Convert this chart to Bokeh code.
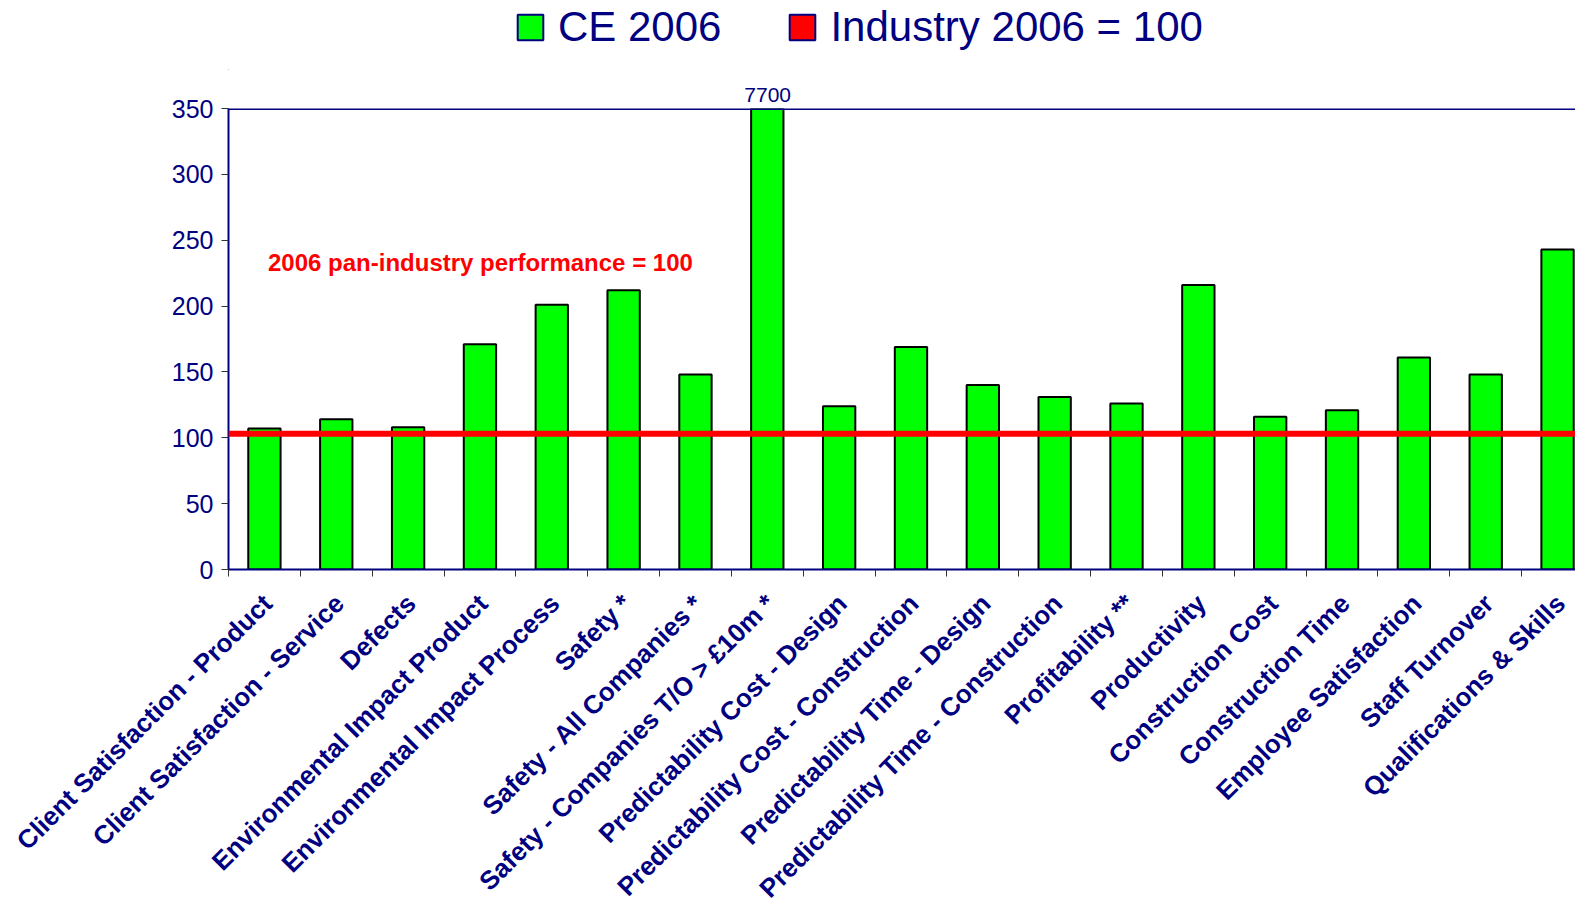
import math
from bokeh.plotting import figure
from bokeh.layouts import column
from bokeh.models import (Range1d, FixedTicker, Span, Label, LabelSet, Legend,
                          LegendItem, ColumnDataSource)
from bokeh.core.properties import value
from bokeh.embed import file_html
from bokeh.resources import INLINE

# ---- data ----
categories = [
    "Client Satisfaction - Product",
    "Client Satisfaction - Service",
    "Defects",
    "Environmental Impact Product",
    "Environmental Impact Process",
    "Safety *",
    "Safety - All Companies *",
    "Safety - Companies T/O > £10m *",
    "Predictability Cost - Design",
    "Predictability Cost - Construction",
    "Predictability Time - Design",
    "Predictability Time - Construction",
    "Profitability **",
    "Productivity",
    "Construction Cost",
    "Construction Time",
    "Employee Satisfaction",
    "Staff Turnover",
    "Qualifications & Skills",
]
ce_2006 = [107, 114, 108, 171, 201, 212, 148, 7700, 124, 169, 140, 131, 126, 216, 116, 121, 161, 148, 243]
industry_2006 = 103
y_ticks = [0, 50, 100, 150, 200, 250, 300, 350]
y_max = 350
series_names = ["CE 2006", "Industry 2006 = 100"]
note_text = "2006 pan-industry performance = 100"

# ---- style ----
NAVY = "#000080"
GREEN = "#00FF00"
RED = "#FF0000"
FONT = "Liberation Sans"
W, H = 1575, 903
TOP_H = 70
LEFT = 228
X_END = 18.75
MAIN_H = 519
BOT_H = H - TOP_H - MAIN_H

n = len(categories)
centers = [i + 0.5 for i in range(n)]
bounds = list(range(n + 1))
x_range = Range1d(0, X_END)

# ---------- header strip: legend ----------
top = figure(width=W, height=TOP_H, x_range=x_range, y_range=Range1d(0, 1),
             output_backend="svg", toolbar_location=None,
             x_axis_location=None, y_axis_location=None,
             min_border_left=LEFT, min_border_right=0,
             min_border_top=0, min_border_bottom=0)
top.outline_line_color = None
top.xgrid.visible = False
top.ygrid.visible = False

# legend swatches (kept outside the visible x range)
r_ce = top.vbar(x=[-1], top=[0], width=0.45, fill_color=GREEN, line_color=NAVY, line_width=2)
r_ind = top.vbar(x=[-1], top=[0], width=0.45, fill_color=RED, line_color=NAVY, line_width=2)
legend = Legend(items=[LegendItem(label=series_names[0], renderers=[r_ce]),
                       LegendItem(label=series_names[1], renderers=[r_ind])],
                orientation="horizontal", location=(286, 19),
                glyph_width=32, glyph_height=32, label_standoff=12, spacing=65,
                padding=0, margin=0, border_line_color=None,
                background_fill_alpha=0,
                label_text_font=FONT, label_text_font_size="42px",
                label_text_color=NAVY)
top.add_layout(legend)

# off-scale value shown as the main chart's title, above its bar
off_idx = [i for i, v in enumerate(ce_2006) if v > y_max][0]
off_text = str(ce_2006[off_idx])

# ---------- main chart ----------
p = figure(width=W, height=MAIN_H,
           x_range=x_range, y_range=Range1d(0, y_max),
           output_backend="svg", toolbar_location=None,
           min_border_left=LEFT, min_border_right=0,
           min_border_top=108 - TOP_H, min_border_bottom=20,
           title=off_text)
p.outline_line_color = None
p.xgrid.visible = False
p.ygrid.visible = False

p.title.text_font = FONT
p.title.text_font_size = "21px"
p.title.text_font_style = "normal"
p.title.text_color = NAVY
p.title.align = "left"
p.title.offset = (centers[off_idx] / X_END) * (W - LEFT) - 23
p.title.standoff = 14

p.vbar(x=centers, top=ce_2006, bottom=0, width=0.45,
       fill_color=GREEN, line_color="black", line_width=2)

p.add_layout(Span(location=industry_2006, dimension="width",
                  line_color=RED, line_width=6))
p.add_layout(Span(location=y_max, dimension="width",
                  line_color=NAVY, line_width=3))

p.add_layout(Label(x=0.55, y=233, text=note_text, text_align="left",
                   text_baseline="alphabetic", text_font=FONT,
                   text_font_size="24px", text_font_style="bold",
                   text_color=RED))

xa = p.xaxis[0]
xa.ticker = FixedTicker(ticks=centers, minor_ticks=bounds)
xa.major_label_overrides = {c: "" for c in centers}
xa.major_label_standoff = 0
xa.major_label_text_font_size = "1px"
xa.major_tick_line_color = None
xa.minor_tick_line_color = "#333333"
xa.minor_tick_in = 0
xa.minor_tick_out = 7
xa.axis_line_color = NAVY
xa.axis_line_width = 2

ya = p.yaxis[0]
ya.ticker = FixedTicker(ticks=y_ticks)
ya.major_label_text_font = FONT
ya.major_label_text_font_size = "25px"
ya.major_label_text_color = NAVY
ya.major_label_standoff = 8
ya.major_tick_in = 0
ya.major_tick_out = 7
ya.major_tick_line_color = "#333333"
ya.minor_tick_line_color = None
ya.axis_line_color = NAVY
ya.axis_line_width = 2

# ---------- category labels strip (same x scale, frame spans full width) ----------
bot_x_range = Range1d(-LEFT * X_END / (W - LEFT), X_END)
bot = figure(width=W, height=BOT_H, x_range=bot_x_range, y_range=Range1d(0, 1),
             output_backend="svg", toolbar_location=None,
             x_axis_location=None, y_axis_location=None,
             min_border_left=0, min_border_right=0,
             min_border_top=0, min_border_bottom=0)
bot.outline_line_color = None
bot.xgrid.visible = False
bot.ygrid.visible = False

label_src = ColumnDataSource(data=dict(x=centers, text=categories))
bot.add_layout(LabelSet(x="x", y=BOT_H - 9.5, y_units="screen", text="text",
                        source=label_src, angle=math.pi / 4, x_offset=3,
                        text_align="right", text_baseline="middle",
                        text_font=value(FONT), text_font_size=value("26px"),
                        text_font_style=value("bold"), text_color=value(NAVY)))

# separate roots so the label strip's frame is not aligned to the chart's frame
open("out.html", "w").write(file_html([column(top, p, spacing=0), bot], INLINE))
